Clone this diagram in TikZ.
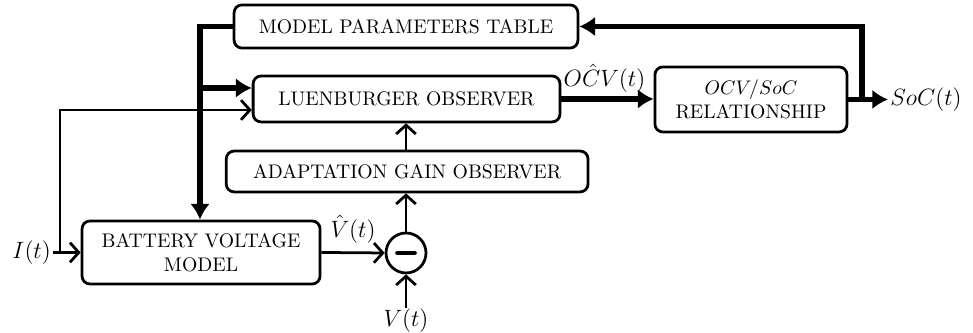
\documentclass[tikz,border=0pt]{standalone}
\usepackage{amsmath}
\usepackage{xcolor}
\usepackage{tikz}
\usetikzlibrary{calc,arrows.meta}

\begin{document}
\begin{tikzpicture}[
        block/.style={draw,line width=1.4pt,rounded corners=4pt,align=center},
        sig/.style={line width=1.4pt,-{Straight Barb[length=4.5pt,width=10pt]}},
        bus/.style={line width=3pt,-{Latex[length=8pt,width=10pt]}},
        lab/.style={font=\large,inner sep=1pt}]
            \useasboundingbox (0,0) rectangle (17.375,5.946);
            % blocks
            \node[block,minimum width=6.14cm,minimum height=0.77cm] (param) at (7.25,5.473) {MODEL PARAMETERS TABLE};
            \node[block,minimum width=5.48cm,minimum height=0.82cm] (luen) at (7.26,4.179) {LUENBURGER OBSERVER};
            \node[block,minimum width=6.46cm,minimum height=0.73cm] (adapt) at (7.27,2.884) {ADAPTATION GAIN OBSERVER};
            \node[block,minimum width=4.25cm,minimum height=1.125cm] (batt) at (3.59,1.4375) {BATTERY VOLTAGE\\MODEL};
            \node[block,minimum width=3.43cm,minimum height=1.16cm] (ocv) at (13.41,4.17) {$OCV/SoC$\\RELATIONSHIP};
            \node[draw,line width=1.4pt,circle,minimum size=0.714cm,inner sep=0pt] (sum) at (7.25,1.4286) {};
            \draw[line width=2.5pt,line cap=round] ($(sum)+(-0.15,0)$)--($(sum)+(0.15,0)$);
            % inputs
            \coordinate (iin) at (0.95,1.4375);
            \coordinate (isplit) at (1.07,1.4375);
            \node[lab,left] (ilab) at (iin) {$I(t)$};
            \draw[sig] (iin)--(batt.west);
            \coordinate (llo) at ($(luen.west)+(0,-0.197)$);
            \draw[sig] (isplit) |- (llo);
            \coordinate (vin) at (7.25,0.45);
            \node[lab,below,inner sep=0.5pt] (vlab) at (vin) {$V(t)$};
            \draw[sig] (vin)--(sum.south);
            % signal path
            \draw[sig] (batt.east)--node[lab,above=3pt]{$\hat{V}(t)$}(sum.west);
            \draw[sig] (sum.north)--(sum.north |- adapt.south);
            \draw[sig] (sum.north |- adapt.north)--(sum.north |- luen.south);
            \draw[bus] (luen.east)--(luen.east -| ocv.west);
            \node[lab,above right,yshift=2pt] (ocvlab) at (luen.east) {$O\hat{C}V(t)$};
            % parameters bus
            \coordinate (pbus) at (3.571,5.473);
            \coordinate (lhi) at ($(luen.west)+(0,0.196)$);
            \draw[bus] (param.west)--(pbus)--(pbus |- batt.north);
            \draw[bus] (pbus |- lhi)--(lhi);
            % output
            \coordinate (sout) at (15.857,4.17);
            \coordinate (ssplit) at (15.393,4.17);
            \draw[bus] (ocv.east)--(sout);
            \node[lab,right] (slab) at (sout) {$SoC(t)$};
            \draw[bus] (ssplit) |- (param.east);
        \end{tikzpicture}
\end{document}
